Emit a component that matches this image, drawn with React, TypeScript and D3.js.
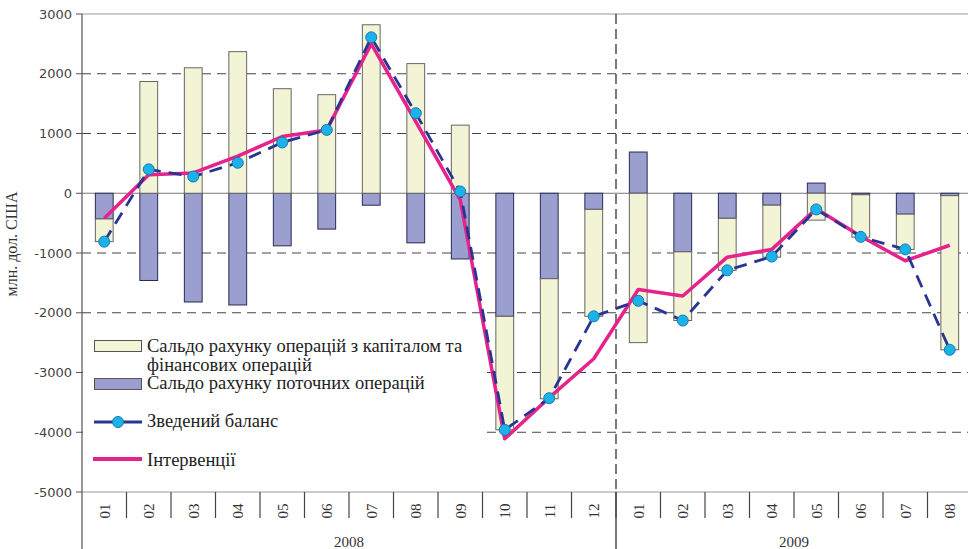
import React, { useEffect, useRef } from "react";
import { select, scaleBand, scaleLinear, stack, stackOffsetDiverging, line } from "d3";

const months2008 = ["01", "02", "03", "04", "05", "06", "07", "08", "09", "10", "11", "12"];
const months2009 = ["01", "02", "03", "04", "05", "06", "07", "08"];
const periods = [
  ...months2008.map((m) => "2008-" + m),
  ...months2009.map((m) => "2009-" + m),
];

// млн. дол. США
const current = [-430, -1460, -1820, -1870, -880, -600, -200, -830, -1100, -2060, -1430, -270, 690, -980, -420, -200, 170, -25, -350, -40];
const capital = [-380, 1870, 2100, 2370, 1750, 1650, 2820, 2170, 1140, -1900, -2010, -1790, -2500, -1150, -870, -870, -450, -710, -590, -2580];
const balance = [-810, 400, 280, 510, 850, 1060, 2610, 1340, 30, -3960, -3430, -2060, -1800, -2130, -1290, -1060, -270, -730, -940, -2620];
const interventions = [-420, 310, 340, 620, 950, 1060, 2500, 1200, -110, -4110, -3420, -2770, -1610, -1720, -1070, -940, -260, -720, -1130, -870];

const yTicks = [3000, 2000, 1000, 0, -1000, -2000, -3000, -4000, -5000];
const years = ["2008", "2009"];

const labelCapital = ["Сальдо рахунку операцій з капіталом та", "фінансових операцій"];
const labelCurrent = "Сальдо рахунку поточних операцій";
const labelBalance = "Зведений баланс";
const labelInterv = "Інтервенції";

const W = 968;
const H = 549;
const serif = "'Liberation Serif', 'DejaVu Serif', serif";

function App() {
  const svgRef = useRef<SVGSVGElement>(null);

  useEffect(() => {
    const svg = select(svgRef.current);
    svg.selectAll("*").remove();

    const left = 82;
    const top = 14;
    const bottom = 492;

    const x = scaleBand()
      .domain(periods)
      .range([left, 972])
      .paddingInner(0.6)
      .paddingOuter(0.3);
    const y = scaleLinear().domain([-5000, 3000]).range([bottom, top]);
    const step = x.step();
    const cx = (p) => x(p) + x.bandwidth() / 2;

    // grid
    svg
      .selectAll(".grid")
      .data(yTicks.filter((t) => t !== 0 && t !== 3000 && t !== -5000))
      .join("line")
      .attr("x1", left)
      .attr("x2", W)
      .attr("y1", (d) => y(d))
      .attr("y2", (d) => y(d))
      .attr("stroke", "#444")
      .attr("stroke-width", 1)
      .attr("stroke-dasharray", "9,6");

    [3000, 0, -5000].forEach((v) => {
      svg
        .append("line")
        .attr("x1", left)
        .attr("x2", W)
        .attr("y1", y(v))
        .attr("y2", y(v))
        .attr("stroke", v === 0 ? "#777" : "#999")
        .attr("stroke-width", 1.2);
    });

    // bars
    const rows = periods.map((p, i) => ({ period: p, current: current[i], capital: capital[i] }));
    const layers = stack().keys(["current", "capital"]).offset(stackOffsetDiverging)(rows);
    const fills = { current: "#9a9fd0", capital: "#f3f3d6" };
    const strokes = { current: "#2a2a50", capital: "#666" };

    svg
      .selectAll(".layer")
      .data(layers)
      .join("g")
      .attr("class", "layer")
      .attr("fill", (l) => fills[l.key])
      .attr("stroke", (l) => strokes[l.key])
      .attr("stroke-width", 1)
      .selectAll("rect")
      .data((l) => l)
      .join("rect")
      .attr("x", (s) => x(s.data.period))
      .attr("width", x.bandwidth())
      .attr("y", (s) => y(Math.max(s[0], s[1])))
      .attr("height", (s) => Math.abs(y(s[0]) - y(s[1])));

    // legend background
    svg
      .append("rect")
      .attr("x", left + 1)
      .attr("y", 326)
      .attr("width", 398)
      .attr("height", 152)
      .attr("fill", "#fff");

    // year divider
    const divX = x("2009-01") - step * 0.3;
    svg
      .append("line")
      .attr("x1", divX)
      .attr("x2", divX)
      .attr("y1", top)
      .attr("y2", bottom)
      .attr("stroke", "#222")
      .attr("stroke-width", 1.2)
      .attr("stroke-dasharray", "10,5");
    svg
      .append("line")
      .attr("x1", divX)
      .attr("x2", divX)
      .attr("y1", bottom)
      .attr("y2", H)
      .attr("stroke", "#222")
      .attr("stroke-width", 1.2);

    // lines
    const lineGen = line()
      .x((d) => cx(d.p))
      .y((d) => y(d.v));

    svg
      .append("path")
      .datum(periods.map((p, i) => ({ p, v: interventions[i] })))
      .attr("d", lineGen)
      .attr("fill", "none")
      .attr("stroke", "#e6228b")
      .attr("stroke-width", 3.5)
      .attr("stroke-linejoin", "round");

    const balData = periods.map((p, i) => ({ p, v: balance[i] }));
    svg
      .append("path")
      .datum(balData)
      .attr("d", lineGen)
      .attr("fill", "none")
      .attr("stroke", "#2a3592")
      .attr("stroke-width", 2.8)
      .attr("stroke-dasharray", "13,8");

    svg
      .selectAll(".dot")
      .data(balData)
      .join("circle")
      .attr("cx", (d) => cx(d.p))
      .attr("cy", (d) => y(d.v))
      .attr("r", 5.5)
      .attr("fill", "#1cb2e8")
      .attr("stroke", "#1779b5")
      .attr("stroke-width", 1);

    // y axis
    svg
      .append("line")
      .attr("x1", left)
      .attr("x2", left)
      .attr("y1", top)
      .attr("y2", H)
      .attr("stroke", "#555")
      .attr("stroke-width", 1.2);
    const yt = svg.append("g").selectAll("g").data(yTicks).join("g");
    yt.append("line")
      .attr("x1", left - 6)
      .attr("x2", left)
      .attr("y1", (d) => y(d))
      .attr("y2", (d) => y(d))
      .attr("stroke", "#555");
    yt.append("text")
      .attr("x", left - 10)
      .attr("y", (d) => y(d))
      .attr("dy", "0.36em")
      .attr("text-anchor", "end")
      .attr("font-family", "'DejaVu Sans', sans-serif")
      .attr("font-size", 13)
      .attr("fill", "#444")
      .text((d) => d);

    svg
      .append("text")
      .attr("transform", `translate(17,244) rotate(-90)`)
      .attr("text-anchor", "middle")
      .attr("font-family", serif)
      .attr("font-size", 16)
      .attr("fill", "#333")
      .text("млн. дол. США");

    // x axis
    svg
      .selectAll(".sep")
      .data(periods.slice(1))
      .join("line")
      .attr("x1", (p) => x(p) - step * 0.3)
      .attr("x2", (p) => x(p) - step * 0.3)
      .attr("y1", bottom)
      .attr("y2", 518)
      .attr("stroke", "#444")
      .attr("stroke-width", 1.2);

    svg
      .selectAll(".month")
      .data(periods)
      .join("text")
      .attr("transform", (p) => `translate(${cx(p)},511) rotate(-90)`)
      .attr("text-anchor", "middle")
      .attr("dy", "0.35em")
      .attr("font-family", serif)
      .attr("font-size", 15)
      .attr("fill", "#333")
      .text((p) => p.slice(5));

    years.forEach((yr) => {
      const ps = periods.filter((p) => p.startsWith(yr));
      const x0 = x(ps[0]) - step * 0.3;
      const x1 = x(ps[ps.length - 1]) + x.bandwidth() + step * 0.3;
      svg
        .append("text")
        .attr("x", (x0 + x1) / 2)
        .attr("y", 547)
        .attr("text-anchor", "middle")
        .attr("font-family", serif)
        .attr("font-size", 15)
        .attr("fill", "#333")
        .text(yr);
    });

    // legend
    const lg = svg.append("g").attr("font-family", serif).attr("font-size", 18.5).attr("fill", "#222");
    lg.append("rect")
      .attr("x", 94.5)
      .attr("y", 340.5)
      .attr("width", 47)
      .attr("height", 11)
      .attr("fill", fills.capital)
      .attr("stroke", "#555");
    lg.append("text").attr("x", 147).attr("y", 352).text(labelCapital[0]);
    lg.append("text").attr("x", 147).attr("y", 371).text(labelCapital[1]);
    lg.append("rect")
      .attr("x", 94.5)
      .attr("y", 378.5)
      .attr("width", 47)
      .attr("height", 11)
      .attr("fill", fills.current)
      .attr("stroke", "#555");
    lg.append("text").attr("x", 147).attr("y", 389).text(labelCurrent);

    lg.append("line")
      .attr("x1", 94)
      .attr("x2", 142)
      .attr("y1", 422)
      .attr("y2", 422)
      .attr("stroke", "#2a3592")
      .attr("stroke-width", 3);
    lg.append("circle")
      .attr("cx", 118)
      .attr("cy", 422)
      .attr("r", 5.5)
      .attr("fill", "#1cb2e8")
      .attr("stroke", "#1779b5");
    lg.append("text").attr("x", 147).attr("y", 427).text(labelBalance);

    lg.append("line")
      .attr("x1", 93)
      .attr("x2", 142)
      .attr("y1", 459)
      .attr("y2", 459)
      .attr("stroke", "#e6228b")
      .attr("stroke-width", 4);
    lg.append("text").attr("x", 147).attr("y", 466).text(labelInterv);
  }, []);

  return (
    <svg
      ref={svgRef}
      width={W}
      height={H}
      style={{ position: "absolute", left: 0, top: 0, background: "#fff", display: "block" }}
    />
  );
}

export default App;
